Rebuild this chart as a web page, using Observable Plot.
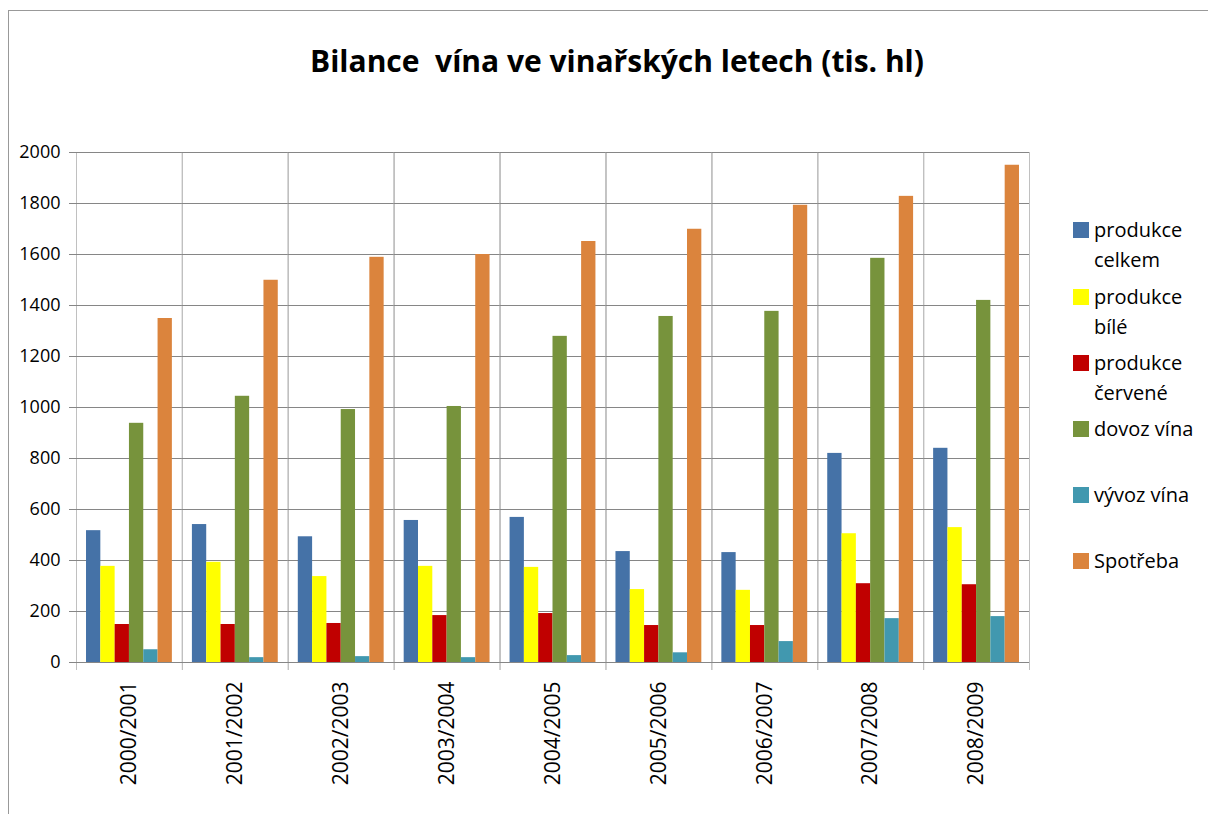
<!DOCTYPE html>
<html>
<head>
<meta charset="utf-8">
<script src="https://cdn.jsdelivr.net/npm/d3@7"></script>
<script src="https://cdn.jsdelivr.net/npm/@observablehq/plot@0.6"></script>
<style>
  body { margin: 0; background: #fff; font-family: "Open Sans", Lato, sans-serif; }
  #wrap { position: relative; width: 1208px; height: 814px; overflow: hidden; }
  #border { position: absolute; left: 8px; top: 10px; width: 1400px; height: 1000px; border-left: 1px solid #999; border-top: 1px solid #999; }
  #title { position: relative; height: 130px; text-align: center; font-weight: bold; font-size: 30px; line-height: 30px; padding-left: 26px; box-sizing: border-box; padding-top: 46px; color: #000; }
  #legend { position: absolute; left: 0; top: 0; }
  .li { position: absolute; left: 1073px; }
  .sw { position: absolute; left: 0; width: 16px; height: 16px; }
  .lt { position: absolute; left: 21px; top: -7px; font-size: 20px; line-height: 30px; white-space: nowrap; color: #000; }
</style>
</head>
<body>
<div id="wrap">
  <div id="border"></div>
  <div id="title">Bilance&nbsp; vína ve vinařských letech (tis. hl)</div>
  <div id="chart"></div>
  <div id="legend"></div>
</div>
<script>
const years = ["2000/2001","2001/2002","2002/2003","2003/2004","2004/2005","2005/2006","2006/2007","2007/2008","2008/2009"];
const seriesNames = ["produkce celkem","produkce bílé","produkce červené","dovoz vína","vývoz vína","Spotřeba"];
const legendLines = [["produkce","celkem"],["produkce","bílé"],["produkce","červené"],["dovoz vína"],["vývoz vína"],["Spotřeba"]];
const colors = ["#4572A7","#FFFF00","#C00000","#77933C","#4198AF","#DB843D"];

const produkceCelkem = [517, 541, 493, 557, 569, 435, 431, 820, 840];
const produkceBile   = [377, 393, 337, 377, 373, 286, 283, 505, 529];
const produkceCervene= [149, 149, 153, 184, 192, 145, 145, 309, 305];
const dovozVina      = [938, 1044, 992, 1004, 1279, 1357, 1377, 1585, 1420];
const vyvozVina      = [50, 19, 23, 19, 27, 38, 82, 172, 180];
const spotreba       = [1349, 1499, 1589, 1600, 1651, 1699, 1793, 1828, 1950];
const yTicks = [0,200,400,600,800,1000,1200,1400,1600,1800,2000];

const seriesValues = [produkceCelkem, produkceBile, produkceCervene, dovozVina, vyvozVina, spotreba];
const data = [];
years.forEach((yr, i) => {
  seriesNames.forEach((s, j) => data.push({year: yr, series: s, value: seriesValues[j][i]}));
});

const chart = Plot.plot({
  width: 1208,
  height: 684,
  marginTop: 22,
  marginBottom: 152,
  marginLeft: 76,
  marginRight: 179,
  style: {fontFamily: "'Open Sans', Lato, sans-serif", fontSize: "18px", color: "#000", background: "transparent"},
  fx: {domain: years, padding: 0, label: null, round: false},
  x: {domain: seriesNames, paddingInner: 0, paddingOuter: 0.7, axis: null, round: false},
  y: {domain: [0, 2000], label: null},
  color: {domain: seriesNames, range: colors},
  marks: [
    Plot.frame({stroke: "#c0c0c0", strokeWidth: 1}),
    Plot.frame({anchor: "left", stroke: "#c0c0c0", strokeWidth: 1, insetBottom: -7}),
    Plot.frame({anchor: "right", stroke: "#c0c0c0", strokeWidth: 1, insetBottom: -7}),
    Plot.gridY(yTicks, {stroke: "#868686", strokeOpacity: 1, strokeWidth: 1}),
    Plot.barY(data, {fx: "year", x: "series", y: "value", fill: "series"}),
    Plot.ruleY([0], {stroke: "#868686"}),
    Plot.axisY(yTicks, {tickSize: 7, tickPadding: 9, stroke: "#868686", fill: "#000", label: null, fontSize: 18, tickFormat: d => String(d)}),
    Plot.axisFx({anchor: "bottom", tickRotate: -90, tickSize: 0, tickPadding: 19, label: null, fontSize: 21, fill: "#000"})
  ]
});
document.getElementById("chart").appendChild(chart);

const swTops = [222, 289, 355, 421, 487, 553];
const leg = document.getElementById("legend");
seriesNames.forEach((s, j) => {
  const item = document.createElement("div");
  item.className = "li";
  item.style.top = swTops[j] + "px";
  const sw = document.createElement("div");
  sw.className = "sw";
  sw.style.background = colors[j];
  const t = document.createElement("div");
  t.className = "lt";
  t.innerHTML = legendLines[j].join("<br>");
  item.appendChild(sw);
  item.appendChild(t);
  leg.appendChild(item);
});
</script>
</body>
</html>
